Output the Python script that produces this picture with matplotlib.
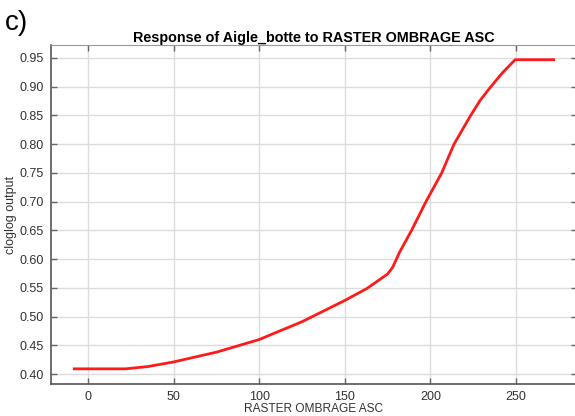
import matplotlib
matplotlib.use("Agg")
import matplotlib.pyplot as plt
from matplotlib.ticker import FormatStrFormatter

plt.rcParams['font.family'] = ['Liberation Sans', 'DejaVu Sans']

# response curve (cloglog output vs. shading raster value)
ombrage = [-8, 22, 35, 50, 75, 100, 125, 150, 163, 175, 178, 182, 189,
           197.4, 206.6, 213.8, 223.5, 229, 235, 242, 249.5, 272]
cloglog = [0.409, 0.409, 0.413, 0.421, 0.438, 0.460, 0.491, 0.528, 0.549,
           0.574, 0.586, 0.612, 0.650, 0.700, 0.750, 0.800, 0.850, 0.876,
           0.899, 0.924, 0.947, 0.947]

xticks = [0, 50, 100, 150, 200, 250]
yticks = [0.40, 0.45, 0.50, 0.55, 0.60, 0.65, 0.70, 0.75, 0.80, 0.85, 0.90, 0.95]

fig = plt.figure(figsize=(5.75, 4.16), dpi=100)
ax = fig.add_axes([0.0887, 0.0769, 0.9147, 0.8149])

ax.plot(ombrage, cloglog, color='#ff1a1a', lw=2, zorder=3)

ax.set_xlim(-21.6, 285.6)
ax.set_ylim(0.3826, 0.9726)
ax.set_xticks(xticks)
ax.set_yticks(yticks)
ax.yaxis.set_major_formatter(FormatStrFormatter('%.2f'))
ax.grid(True, color='#dcdcdc', lw=1)
ax.set_axisbelow(True)

ax.tick_params(direction='in', length=4, width=1, color='#666666',
               labelsize=9, labelcolor='#333333', top=True, right=True)
ax.tick_params(axis='x', pad=5)
ax.tick_params(axis='y', pad=5)

for side in ['left', 'bottom']:
    ax.spines[side].set_color('#555555')
    ax.spines[side].set_linewidth(1.2)
ax.spines['top'].set_color('#999999')
ax.spines['right'].set_visible(False)

ax.set_title('Response of Aigle_botte to RASTER OMBRAGE ASC',
             fontsize=10.4, fontweight='bold', pad=2)
ax.set_xlabel('RASTER OMBRAGE ASC', fontsize=8.6, color='#333333', labelpad=0)
ax.set_ylabel('cloglog output', fontsize=9, color='#333333', labelpad=2)

fig.text(0.008, 0.976, 'c)', fontsize=20, va='top', ha='left')

fig.savefig('out.png', dpi=100)
